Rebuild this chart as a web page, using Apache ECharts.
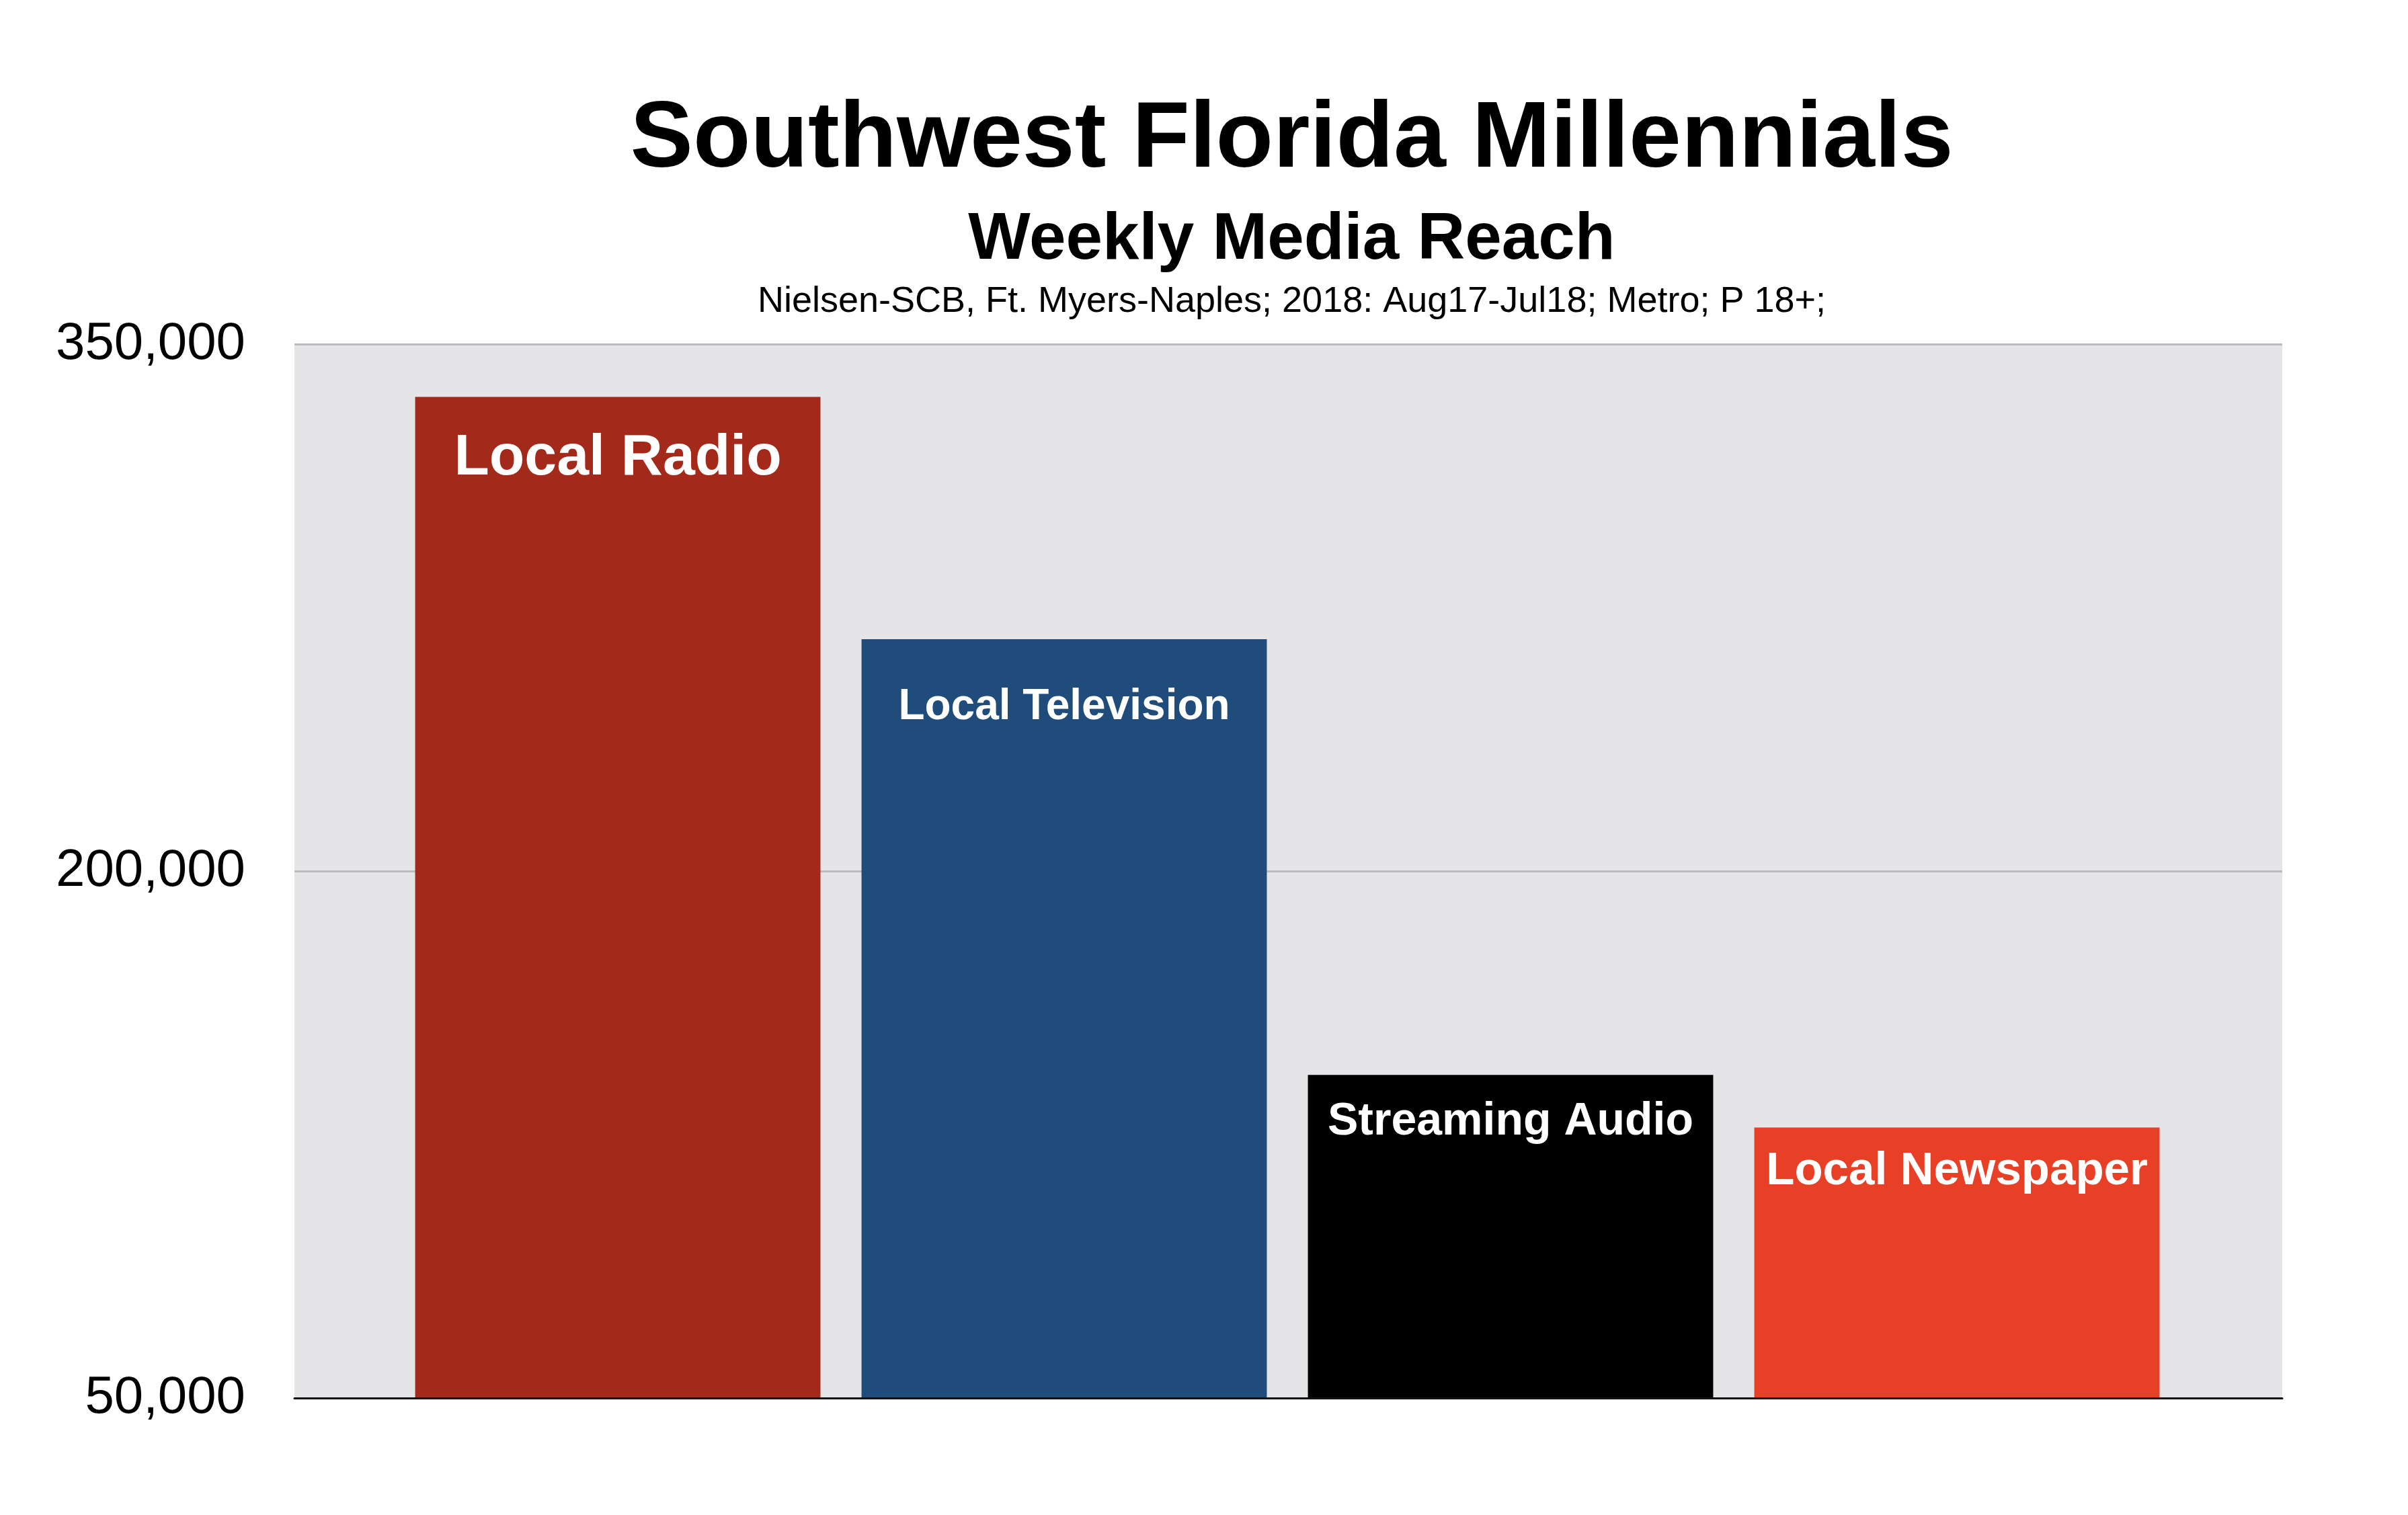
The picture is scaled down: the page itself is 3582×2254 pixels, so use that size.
<!DOCTYPE html>
<html>
<head>
<meta charset="utf-8">
<script src="https://cdn.jsdelivr.net/npm/echarts@6/dist/echarts.min.js"></script>
<style>
  html, body { margin: 0; padding: 0; background: #ffffff; }
  #chart { width: 3582px; height: 2254px; }
</style>
</head>
<body>
<div id="chart"></div>
<script>
// ---- data ----
const categories = ['Local Radio', 'Local Television', 'Streaming Audio', 'Local Newspaper'];
const reachValues = [335000, 266000, 142000, 127000];
const yTicks = [50000, 200000, 350000];

const titleText = 'Southwest Florida Millennials';
const subtitleText = 'Weekly Media Reach';
const sourceText = 'Nielsen-SCB, Ft. Myers-Naples; 2018: Aug17-Jul18; Metro; P 18+;';

// ---- styling ----
const barColors = ['#a3291a', '#204c7c', '#000000', '#e84026'];
const labelSizes = [86, 64, 68, 69];
const labelDistances = [49, 69, 36, 31];
const FONT = "'Liberation Sans', Arial, Helvetica, sans-serif";

const yMin = yTicks[0];
const yMax = yTicks[yTicks.length - 1];
const yInterval = yTicks[1] - yTicks[0];

const plotCenterX = (438 + 3395) / 2;

const chart = echarts.init(document.getElementById('chart'), null, { renderer: 'canvas' });

const option = {
  backgroundColor: '#ffffff',
  animation: false,
  title: [
    {
      text: titleText,
      left: plotCenterX, top: 134, textAlign: 'center',
      textStyle: { fontFamily: FONT, fontSize: 140, fontWeight: 'bold', color: '#000' }
    },
    {
      text: subtitleText,
      left: plotCenterX, top: 304, textAlign: 'center',
      textStyle: { fontFamily: FONT, fontSize: 98, fontWeight: 'bold', color: '#000' }
    },
    {
      text: sourceText,
      left: plotCenterX, top: 417, textAlign: 'center',
      textStyle: { fontFamily: FONT, fontSize: 54, fontWeight: 'normal', color: '#000' }
    }
  ],
  grid: [
    { left: 438, right: 187, top: 512, bottom: 174, show: true, backgroundColor: '#e5e5e7', borderWidth: 0 },
    { left: 587, right: 339, top: 512, bottom: 174 }
  ],
  xAxis: [
    {
      gridIndex: 0, type: 'category', data: categories, z: 5,
      axisLine: { show: true, lineStyle: { color: '#111', width: 3 } },
      axisTick: { show: false }, axisLabel: { show: false }, splitLine: { show: false }
    },
    {
      gridIndex: 1, type: 'category', data: categories,
      axisLine: { show: false }, axisTick: { show: false }, axisLabel: { show: false }, splitLine: { show: false }
    }
  ],
  yAxis: [
    {
      gridIndex: 0, type: 'value', min: yMin, max: yMax, interval: yInterval,
      axisLine: { show: false }, axisTick: { show: false },
      axisLabel: {
        margin: 73, fontFamily: FONT, fontSize: 78, color: '#000',
        formatter: v => v.toLocaleString('en-US')
      },
      splitLine: { show: true, lineStyle: { color: '#bcbcbc', width: 3 } }
    },
    {
      gridIndex: 1, type: 'value', min: yMin, max: yMax, interval: yInterval,
      axisLine: { show: false }, axisTick: { show: false }, axisLabel: { show: false }, splitLine: { show: false }
    }
  ],
  series: [
    {
      type: 'bar', xAxisIndex: 1, yAxisIndex: 1,
      barCategoryGap: '9.2%',
      data: reachValues.map((v, i) => ({
        value: v,
        itemStyle: { color: barColors[i] },
        label: { fontSize: labelSizes[i], distance: labelDistances[i] }
      })),
      label: {
        show: true, position: 'insideTop', formatter: '{b}',
        color: '#ffffff', fontWeight: 'bold', fontFamily: FONT
      }
    }
  ]
};

chart.setOption(option);
</script>
</body>
</html>
